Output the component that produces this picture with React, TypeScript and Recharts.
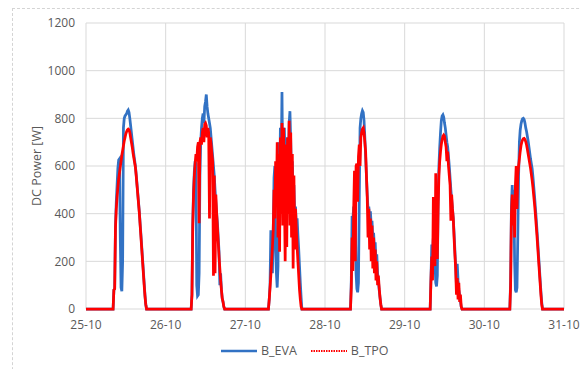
import { CartesianGrid, Line, LineChart, XAxis, YAxis } from "recharts";

// x axis: days since 25-10, one point every 0.01 day while the sun is up
const dateLabels = ["25-10", "26-10", "27-10", "28-10", "29-10", "30-10", "31-10"];
const dayTicks = [0, 1, 2, 3, 4, 5, 6];
const powerTicks = [0, 200, 400, 600, 800, 1000, 1200];
const STEP = 0.01;
const dayStart = [0.34, 1.32, 2.29, 3.32, 4.32, 5.32];

// B_EVA [W]
const evaDay1 = [0, 80, 85, 350, 450, 520, 590, 625, 630, 300, 90, 75, 200, 760, 800, 810, 815, 820, 830, 835, 825, 800, 770, 740, 710, 680, 650, 625, 600, 565, 525, 485, 445, 405, 355, 310, 260, 210, 160, 110, 60, 20, 0];
const evaDay2 = [0, 60, 360, 500, 580, 620, 610, 100, 55, 60, 150, 560, 700, 760, 800, 820, 780, 850, 870, 900, 850, 820, 800, 780, 760, 720, 680, 640, 600, 560, 500, 450, 400, 360, 300, 240, 100, 150, 80, 45, 30, 10, 0];
const evaDay3 = [0, 40, 100, 330, 200, 150, 320, 550, 600, 250, 150, 90, 180, 700, 500, 760, 600, 910, 550, 420, 760, 600, 700, 550, 720, 600, 780, 830, 700, 560, 620, 480, 520, 400, 430, 350, 380, 310, 250, 180, 110, 50, 0];
const evaDay4 = [0, 120, 390, 380, 430, 400, 380, 150, 85, 70, 110, 450, 760, 800, 820, 832, 825, 790, 720, 640, 560, 480, 420, 430, 380, 410, 350, 370, 300, 320, 260, 280, 200, 230, 150, 120, 80, 50, 20, 0];
const evaDay5 = [0, 130, 270, 240, 300, 380, 200, 110, 95, 140, 450, 600, 680, 740, 790, 810, 815, 805, 780, 760, 730, 700, 680, 640, 600, 550, 500, 460, 420, 380, 320, 250, 180, 100, 190, 120, 80, 60, 30, 10, 0];
const evaDay6 = [0, 120, 430, 520, 380, 500, 200, 80, 70, 90, 300, 560, 700, 750, 775, 790, 798, 800, 795, 780, 760, 745, 725, 705, 680, 655, 630, 610, 590, 555, 515, 475, 430, 385, 335, 285, 230, 180, 125, 75, 30, 0];

// B_TPO [W]
const tpoDay1 = [0, 80, 85, 340, 420, 470, 510, 545, 570, 595, 620, 645, 665, 685, 705, 720, 735, 745, 752, 755, 752, 740, 720, 700, 680, 655, 635, 615, 595, 560, 520, 480, 440, 400, 350, 300, 250, 200, 150, 100, 55, 20, 0];
const tpoDay2 = [0, 60, 350, 480, 560, 610, 650, 620, 680, 700, 360, 700, 720, 690, 740, 760, 700, 775, 780, 770, 720, 760, 740, 380, 720, 690, 650, 620, 140, 560, 150, 480, 400, 340, 280, 220, 170, 120, 80, 45, 30, 10, 0];
const tpoDay3 = [0, 40, 90, 140, 200, 260, 330, 500, 380, 620, 450, 700, 300, 650, 240, 720, 400, 780, 350, 760, 500, 200, 690, 260, 720, 400, 790, 350, 740, 300, 650, 170, 560, 250, 420, 330, 260, 200, 140, 80, 40, 10, 0];
const tpoDay4 = [0, 90, 300, 160, 420, 580, 200, 600, 610, 450, 640, 690, 600, 720, 740, 755, 760, 740, 700, 660, 560, 470, 300, 420, 250, 380, 200, 350, 170, 300, 150, 250, 120, 200, 100, 140, 90, 50, 20, 0];
const tpoDay5 = [0, 120, 220, 120, 470, 250, 180, 570, 300, 210, 420, 560, 620, 660, 690, 710, 725, 730, 725, 700, 680, 620, 660, 600, 560, 520, 370, 480, 420, 380, 300, 230, 170, 60, 130, 40, 110, 30, 60, 10, 0];
const tpoDay6 = [0, 100, 400, 480, 350, 460, 300, 520, 600, 420, 560, 600, 630, 660, 685, 700, 710, 715, 716, 712, 702, 688, 670, 650, 630, 610, 590, 565, 540, 510, 475, 440, 400, 355, 310, 260, 210, 160, 110, 60, 20, 0];

const evaDays = [evaDay1, evaDay2, evaDay3, evaDay4, evaDay5, evaDay6];
const tpoDays = [tpoDay1, tpoDay2, tpoDay3, tpoDay4, tpoDay5, tpoDay6];

function buildRows() {
  const rows = [{ t: 0, eva: 0, tpo: 0 }];
  dayStart.forEach((s, d) => {
    const eva = evaDays[d];
    const tpo = tpoDays[d];
    const n = Math.max(eva.length, tpo.length);
    for (let i = 0; i < n; i++) {
      rows.push({ t: +(s + i * STEP).toFixed(3), eva: eva[i] ?? 0, tpo: tpo[i] ?? 0 });
    }
  });
  rows.push({ t: 6, eva: 0, tpo: 0 });
  return rows;
}

const rows = buildRows();

const FONT = "'Open Sans', 'Liberation Sans', sans-serif";
const TEXT = "#595959";
const BLUE = "#3272C4";
const RED = "#FF0000";
const tick = { fill: TEXT, fontSize: 12, fontFamily: FONT };

export default function App() {
  return (
    <div style={{ position: "absolute", left: 0, top: 0, width: 580, height: 369, overflow: "hidden", background: "#fff" }}>
      <div style={{ position: "absolute", left: 12, top: 8, width: 620, height: 420, border: "1px dashed #d4d4d4" }} />
      <LineChart width={580} height={369} data={rows} margin={{ top: 23, right: 16, bottom: 30, left: 26 }}>
        <CartesianGrid stroke="#d9d9d9" strokeWidth={1} />
        <XAxis
          dataKey="t"
          type="number"
          domain={[0, 6]}
          ticks={dayTicks}
          tickFormatter={(v) => dateLabels[v]}
          tick={tick}
          axisLine={false}
          tickLine={false}
          tickMargin={5}
          height={30}
          interval={0}
        />
        <YAxis
          type="number"
          domain={[0, 1200]}
          ticks={powerTicks}
          tick={tick}
          axisLine={false}
          tickLine={false}
          tickMargin={5}
          width={60}
          interval={0}
          label={{
            value: "DC Power [W]",
            angle: -90,
            position: "insideLeft",
            offset: 11,
            style: { fill: TEXT, fontSize: 12.5, fontFamily: FONT, textAnchor: "middle" },
          }}
        />
        <Line type="linear" dataKey="eva" name="B_EVA" stroke={BLUE} strokeWidth={2.75} dot={false} isAnimationActive={false} />
        <Line type="linear" dataKey="tpo" name="B_TPO" stroke={RED} strokeWidth={2.75} dot={false} isAnimationActive={false} />
      </LineChart>
      <div style={{ position: "absolute", top: 342, left: 221, display: "flex", alignItems: "center", fontFamily: FONT, fontSize: 12.5, color: TEXT }}>
        <svg width={36} height={6} style={{ marginRight: 4 }}>
          <line x1={0} y1={3} x2={36} y2={3} stroke={BLUE} strokeWidth={2.5} />
        </svg>
        <span style={{ marginRight: 14 }}>B_EVA</span>
        <svg width={36} height={6} style={{ marginRight: 4 }}>
          <line x1={0} y1={3} x2={36} y2={3} stroke={RED} strokeWidth={2} strokeDasharray="1.5 1" />
        </svg>
        <span>B_TPO</span>
      </div>
    </div>
  );
}
